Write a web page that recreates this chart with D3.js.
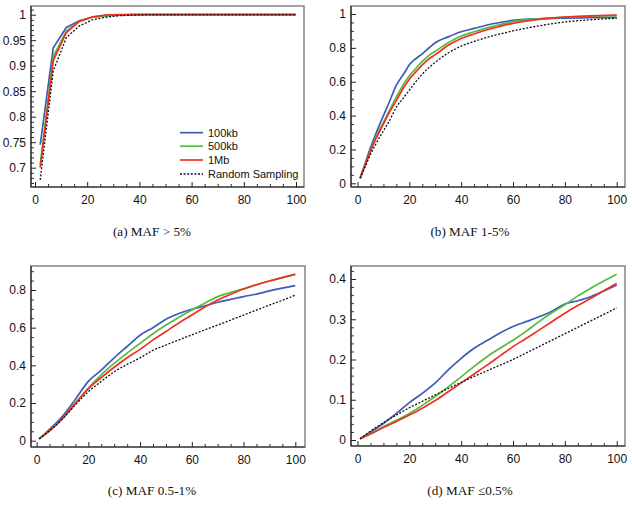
<!DOCTYPE html>
<html><head><meta charset="utf-8">
<script src="https://cdn.jsdelivr.net/npm/d3@7"></script>
<style>
html,body{margin:0;padding:0;background:#fff;}
svg{display:block;}
.tick text{font-family:"Liberation Sans",Arial,sans-serif;font-size:12px;fill:#111;}
</style></head>
<body>
<svg id="chart" width="632" height="511"></svg>
<script>
// ---------- data ----------
const seriesNames = ["100kb", "500kb", "1Mb", "Random Sampling"];
const captions = ["(a) MAF > 5%", "(b) MAF 1-5%", "(c) MAF 0.5-1%", "(d) MAF \u22640.5%"];

const xA = [2,7,12,17,22,27,32,37,42,47,52,60,70,80,90,100];
const blueA  = [0.745,0.935,0.975,0.988,0.995,0.998,0.999,1,1,1,1,1,1,1,1,1];
const greenA = [0.705,0.918,0.968,0.987,0.995,0.998,0.999,1,1,1,1,1,1,1,1,1];
const redA   = [0.700,0.910,0.965,0.987,0.996,0.999,1,1,1,1,1,1,1,1,1,1];
const randA  = [0.676,0.890,0.955,0.978,0.990,0.995,0.998,0.999,1,1,1,1,1,1,1,1];

const xB = [1,3,5,7,10,12,15,18,20,22,25,28,30,35,40,45,50,55,60,70,80,90,100];
const blueB  = [0.03,0.12,0.21,0.29,0.40,0.47,0.58,0.65,0.70,0.73,0.765,0.805,0.83,0.865,0.895,0.915,0.935,0.95,0.962,0.972,0.976,0.978,0.98];
const greenB = [0.03,0.11,0.19,0.27,0.36,0.42,0.51,0.59,0.635,0.67,0.72,0.76,0.78,0.83,0.87,0.895,0.918,0.937,0.955,0.972,0.982,0.987,0.99];
const redB   = [0.03,0.11,0.19,0.26,0.35,0.41,0.49,0.57,0.615,0.65,0.70,0.74,0.76,0.815,0.855,0.882,0.907,0.927,0.945,0.968,0.982,0.989,0.994];
const randB  = [0.03,0.10,0.17,0.23,0.31,0.36,0.45,0.51,0.55,0.59,0.645,0.69,0.715,0.77,0.81,0.838,0.862,0.882,0.9,0.93,0.953,0.966,0.975];

const xC = [1,5,10,15,20,25,30,35,40,45,50,55,60,65,70,75,80,85,90,95,100];
const blueC  = [0.01,0.06,0.13,0.22,0.315,0.375,0.44,0.5,0.56,0.6,0.645,0.675,0.698,0.715,0.735,0.75,0.765,0.778,0.795,0.81,0.823];
const greenC = [0.01,0.053,0.118,0.2,0.28,0.35,0.41,0.465,0.517,0.568,0.614,0.655,0.694,0.73,0.765,0.787,0.806,0.828,0.848,0.866,0.883];
const redC   = [0.01,0.052,0.118,0.198,0.275,0.335,0.39,0.44,0.485,0.535,0.58,0.625,0.667,0.71,0.747,0.777,0.805,0.828,0.848,0.866,0.883];
const randC  = [0.01,0.052,0.115,0.19,0.26,0.315,0.366,0.405,0.44,0.48,0.508,0.535,0.562,0.588,0.614,0.64,0.667,0.693,0.72,0.745,0.773];

const xD = [1,5,10,15,20,25,30,35,40,45,50,55,60,65,70,75,80,85,90,95,100];
const blueD  = [0.003,0.02,0.041,0.066,0.093,0.116,0.142,0.174,0.203,0.228,0.247,0.266,0.282,0.294,0.306,0.32,0.338,0.346,0.356,0.37,0.385];
const greenD = [0.003,0.016,0.033,0.049,0.066,0.086,0.108,0.132,0.157,0.183,0.207,0.228,0.248,0.27,0.294,0.316,0.336,0.358,0.377,0.395,0.412];
const redD   = [0.003,0.015,0.031,0.046,0.062,0.079,0.098,0.12,0.142,0.164,0.186,0.209,0.232,0.252,0.273,0.294,0.315,0.334,0.352,0.371,0.389];
const randD  = [0.003,0.022,0.043,0.062,0.08,0.096,0.112,0.128,0.143,0.158,0.172,0.186,0.2,0.216,0.232,0.248,0.264,0.28,0.296,0.312,0.328];

const xTicks = [0,20,40,60,80,100];
const yTicksA = [0.7,0.75,0.8,0.85,0.9,0.95,1];
const yTicksB = [0,0.2,0.4,0.6,0.8,1];
const yTicksC = [0,0.2,0.4,0.6,0.8];
const yTicksD = [0,0.1,0.2,0.3,0.4];

// ---------- layout / style ----------
const colors = ["#3d5cb5", "#55bb3a", "#ee3124", "#111"];
const panels = [
  {x:xA, ys:[blueA,greenA,redA,randA], yTicks:yTicksA, yDom:[0.7,1], yRange:[167.7,14.7], yMinor:0.01,
   frame:{l:31,t:6,r:304,b:187}, xRange:[35,296], cap:[152,236], legend:true, curve:d3.curveLinear},
  {x:xB, ys:[blueB,greenB,redB,randB], yTicks:yTicksB, yDom:[0,1], yRange:[183.3,14], yMinor:0.05,
   frame:{l:351,t:6,r:625,b:187}, xRange:[357.5,616.7], cap:[470,236], curve:d3.curveMonotoneX},
  {x:xC, ys:[blueC,greenC,redC,randC], yTicks:yTicksC, yDom:[0,0.8], yRange:[440.7,290], yMinor:0.05,
   frame:{l:31,t:266,r:305,b:447}, xRange:[36.6,295.3], cap:[152,495], curve:d3.curveMonotoneX},
  {x:xD, ys:[blueD,greenD,redD,randD], yTicks:yTicksD, yDom:[0,0.4], yRange:[440,279], yMinor:0.02,
   frame:{l:351,t:266,r:625,b:446}, xRange:[357.5,616.7], cap:[470,495], curve:d3.curveMonotoneX}
];

const svg = d3.select("#chart");
const fmt = v => v===0 ? "0" : (v===1 ? "1" : d3.format("")(+v.toFixed(2)));

panels.forEach((p,i) => {
  const f = p.frame;
  const x = d3.scaleLinear().domain([0,100]).range(p.xRange);
  const y = d3.scaleLinear().domain(p.yDom).range(p.yRange);
  const g = svg.append("g");

  g.append("rect").attr("x",f.l).attr("y",f.t).attr("width",f.r-f.l).attr("height",f.b-f.t)
    .attr("fill","none").attr("stroke","#8c8c8c").attr("stroke-width",1.6);

  const xMinor = d3.range(0,100.001,5).filter(v=>v%20!==0);
  const yMinorVals = [];
  for (let v = p.yDom[0]; v <= p.yDom[1]+1e-9; v += p.yMinor) yMinorVals.push(+v.toFixed(4));
  const yMinorF = yMinorVals.filter(v => !p.yTicks.some(t=>Math.abs(t-v)<1e-6));
  let extra = p.yTicks[p.yTicks.length-1] + p.yMinor;
  while (y(extra) > f.t + 1) { yMinorF.push(+extra.toFixed(4)); extra += p.yMinor; }
  let below = p.yDom[0] - p.yMinor;
  while (y(below) < f.b - 1) { yMinorF.push(+below.toFixed(4)); below -= p.yMinor; }

  g.append("g").attr("transform",`translate(0,${f.b})`)
    .call(d3.axisBottom(x).tickValues(xMinor).tickSize(-3).tickFormat(""))
    .call(s=>s.select(".domain").remove())
    .selectAll("line").attr("stroke","#333");
  g.append("g").attr("transform",`translate(${f.l},0)`)
    .call(d3.axisLeft(y).tickValues(yMinorF).tickSize(-3).tickFormat(""))
    .call(s=>s.select(".domain").remove())
    .selectAll("line").attr("stroke","#333");

  g.append("g").attr("transform",`translate(0,${f.b})`)
    .call(d3.axisBottom(x).tickValues(xTicks).tickSize(-5).tickPadding(8).tickFormat(d3.format("d")))
    .call(s=>s.select(".domain").remove())
    .selectAll("line").attr("stroke","#222");
  g.append("g").attr("transform",`translate(${f.l},0)`)
    .call(d3.axisLeft(y).tickValues(p.yTicks).tickSize(-5).tickPadding(5).tickFormat(fmt))
    .call(s=>s.select(".domain").remove())
    .selectAll("line").attr("stroke","#222");

  g.append("line").attr("x1",f.l).attr("x2",f.l).attr("y1",f.t).attr("y2",f.b)
    .attr("stroke","#222").attr("stroke-width",1.2);
  g.append("line").attr("x1",f.l).attr("x2",f.r).attr("y1",f.b).attr("y2",f.b)
    .attr("stroke","#222").attr("stroke-width",1.2);

  const clipId = "clip"+i;
  svg.append("clipPath").attr("id",clipId).append("rect")
    .attr("x",f.l).attr("y",f.t).attr("width",f.r-f.l).attr("height",f.b-f.t);
  const line = d3.line().x((d,k)=>x(p.x[k])).y(d=>y(d)).curve(p.curve);
  p.ys.forEach((arr,k) => {
    g.append("path").datum(arr).attr("d",line).attr("fill","none")
      .attr("clip-path",`url(#${clipId})`)
      .attr("stroke",colors[k])
      .attr("stroke-width", k===3 ? 1.3 : 1.7)
      .attr("stroke-dasharray", k===3 ? "2,1.6" : null);
  });

  svg.append("text").attr("x",p.cap[0]).attr("y",p.cap[1]).attr("text-anchor","middle")
    .attr("font-family","'Liberation Serif','DejaVu Serif',serif").attr("font-size",13.2)
    .attr("fill","#111").text(captions[i]);

  if (p.legend) {
    const lg = svg.append("g");
    const rows = [132.7,146.2,160,174];
    seriesNames.forEach((n,k) => {
      lg.append("line").attr("x1",180).attr("x2",203).attr("y1",rows[k]).attr("y2",rows[k])
        .attr("stroke",colors[k]).attr("stroke-width",k===3?1.3:1.7)
        .attr("stroke-dasharray",k===3?"2,1.6":null);
      lg.append("text").attr("x",208).attr("y",rows[k]+4)
        .attr("font-family","'Liberation Sans',Arial,sans-serif").attr("font-size",11)
        .attr("fill","#111").text(n);
    });
  }
});
</script>
</body></html>
